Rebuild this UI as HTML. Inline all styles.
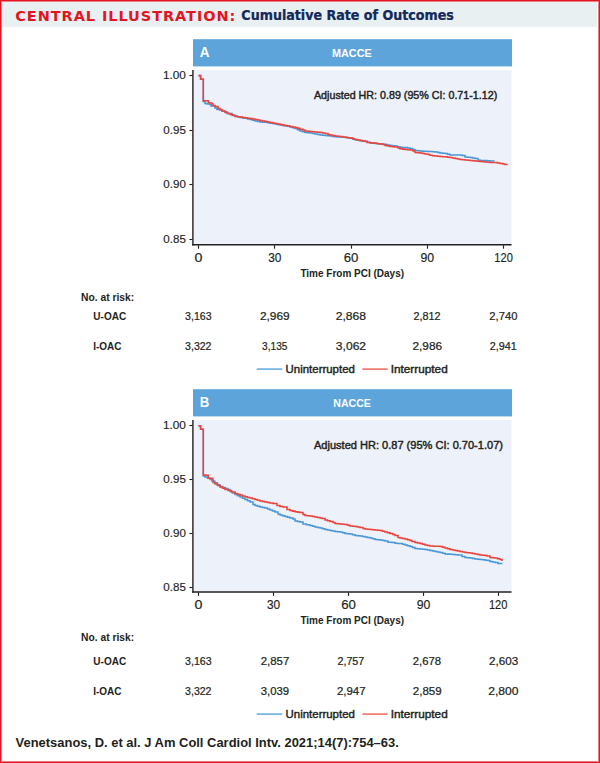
<!DOCTYPE html>
<html><head><meta charset="utf-8"><title>Central Illustration: Cumulative Rate of Outcomes</title>
<style>
html,body{margin:0;padding:0;background:#fff;}
body{width:600px;height:763px;position:relative;overflow:hidden;font-family:"Liberation Sans",Arial,sans-serif;}
.frame{position:absolute;left:0;top:0;width:600px;height:763px;box-sizing:border-box;border:1px solid #e3131f;box-shadow:inset 0 0 0 1px rgba(227,19,31,0.55);pointer-events:none;z-index:5;}
.band{position:absolute;left:2px;top:2px;width:595px;height:25px;background:#e8f0f2;}
svg{position:absolute;left:0;top:0;}
svg text{font-family:"Liberation Sans",Arial,sans-serif;fill:#231f20;}
.r{stroke:#231f20;stroke-width:0.42px;}
.t{stroke:#231f20;stroke-width:0.15px;}
.n{stroke:#231f20;stroke-width:0.22px;}
</style></head>
<body>
<div class="band"></div>
<svg width="600" height="763" viewBox="0 0 600 763">
<rect x="193" y="39.2" width="319" height="27.2" fill="#5ca4d9"/>
<text transform="translate(199.66,56.70) scale(0.924,1)" style="font-size:14.55px;font-weight:700;fill:#fff">A</text>
<text transform="translate(331.97,56.70) scale(0.970,1)" style="font-size:11.18px;font-weight:700;fill:#fff">MACCE</text>
<rect x="193" y="70" width="318.5" height="174.8" fill="#edf1fa"/>
<path d="M198.5,75.6H200.6V75.6V79.3H203.3V79.3V101.5H205.0V103.5H207.0V104.0H210.0V104.5H211.0V106.0H215.0V108.0H217.0V109.5H220.0V110.0H222.5V111.2H225.0V112.5H228.0V113.5H232.0V115.5H235.0V116.0H237.5V116.8H240.0V117.5H242.5V117.9H245.0V118.3H247.5V118.9H250.0V119.5H252.5V120.2H255.0V121.0H257.5V121.5H260.0V122.0H262.5V122.2H265.0V122.3H267.5V122.8H270.0V123.2H273.3V123.8H276.7V124.4H280.0V125.0H283.3V125.7H286.7V126.3H290.0V127.0H292.5V127.8H295.0V128.5H297.5V129.8H300.0V131.0H302.5V131.8H305.0V132.5H307.5V132.8H310.0V133.0H312.5V133.5H315.0V134.0H317.5V134.5H320.0V135.0H322.5V135.2H325.0V135.5H327.5V135.8H330.0V136.0H332.5V136.4H335.0V136.8H337.5V136.9H340.0V137.0H342.5V137.2H345.0V137.5H347.5V137.8H350.0V138.2H352.5V138.9H355.0V139.7H357.5V140.2H360.0V140.7H362.5V141.1H365.0V141.5H367.5V142.2H370.0V143.0H372.5V143.2H375.0V143.5H377.5V143.8H380.0V144.0H382.5V144.2H385.0V144.5H387.5V145.0H390.0V145.5H392.5V145.8H395.0V146.0H397.5V146.7H400.0V147.3H402.5V147.4H405.0V147.5H407.5V148.0H410.0V148.5H412.5V149.5H415.0V150.5H417.5V150.8H420.0V151.0H422.5V151.2H425.0V151.3H427.5V151.4H430.0V151.5H432.5V151.8H435.0V152.0H438.0V152.5H440.0V153.0H442.5V153.2H445.0V153.5H447.5V154.2H450.0V155.0H453.3V155.0H456.7V155.0H460.0V155.0H462.0V155.5H465.0V157.0H467.5V157.2H470.0V157.5H472.5V158.0H475.0V158.5H478.0V160.0H480.0V160.5H482.5V160.5H485.0V160.5H487.5V160.8H490.0V161.0H494.0V161.3" fill="none" stroke="#4a97d6" stroke-width="1.55"/>
<path d="M198.5,75.6H200.6V75.6V79.3H203.3V79.3V100.7H205.7V100.8H208.0V100.9H208.5V103.0H212.0V104.0H213.0V105.5H215.0V106.5H218.0V108.5H220.0V109.5H222.0V111.0H225.0V112.0H227.0V113.5H230.0V114.5H233.0V115.3H235.0V116.5H237.5V116.8H240.0V117.0H242.5V117.4H245.0V117.8H247.5V118.2H250.0V118.5H252.5V119.0H255.0V119.5H257.5V120.0H260.0V120.5H262.5V121.0H265.0V121.5H267.5V122.0H270.0V122.5H272.5V123.0H275.0V123.5H277.5V124.0H280.0V124.5H282.5V125.0H285.0V125.5H287.5V126.0H290.0V126.5H292.5V127.0H295.0V127.5H297.5V128.4H300.0V129.3H303.0V130.0H305.0V131.0H307.5V131.2H310.0V131.5H312.5V131.8H315.0V132.0H317.5V132.2H320.0V132.5H322.5V133.0H325.0V133.5H328.0V134.5H330.0V135.0H332.5V135.5H335.0V136.0H337.5V136.2H340.0V136.5H342.5V136.9H345.0V137.3H347.5V137.7H350.0V138.0H353.0V139.0H355.0V139.5H357.5V140.0H360.0V140.5H362.5V140.9H365.0V141.3H367.0V142.5H370.0V142.8H372.5V143.1H375.0V143.3H377.5V143.7H380.0V144.0H383.0V144.5H385.0V145.5H387.5V146.0H390.0V146.5H392.5V146.8H395.0V147.0H398.0V148.0H400.0V148.7H402.5V149.1H405.0V149.5H407.5V149.8H410.0V150.0H413.0V151.0H415.0V152.5H417.5V152.8H420.0V153.0H422.5V153.5H425.0V154.0H428.0V154.5H430.0V155.3H432.5V155.7H435.0V156.0H437.5V156.2H440.0V156.5H442.5V156.7H445.0V156.8H447.5V157.2H450.0V157.5H452.5V158.0H455.0V158.5H457.5V159.0H460.0V159.5H462.5V159.8H465.0V160.0H467.5V160.2H470.0V160.5H472.5V160.8H475.0V161.0H477.5V161.2H480.0V161.5H482.5V161.8H485.0V162.0H487.5V162.2H490.0V162.5H492.5V162.5H495.0V162.5H497.5V163.0H500.0V163.5H503.0V164.0H505.0V164.5H507.0V165.0" fill="none" stroke="#e8453f" stroke-width="1.55"/>
<line x1="192.9" y1="70" x2="192.9" y2="245.5" stroke="#231f20" stroke-width="1.4"/>
<line x1="192.2" y1="244.8" x2="511.5" y2="244.8" stroke="#231f20" stroke-width="1.4"/>
<line x1="189.4" y1="75.5" x2="192.5" y2="75.5" stroke="#231f20" stroke-width="1.1"/>
<text class="t" transform="translate(162.92,79.15) scale(1.089,1)" style="font-size:10.82px;font-weight:400">1.00</text>
<line x1="189.4" y1="130.5" x2="192.5" y2="130.5" stroke="#231f20" stroke-width="1.1"/>
<text class="t" transform="translate(163.34,133.65) scale(1.070,1)" style="font-size:10.82px;font-weight:400">0.95</text>
<line x1="189.4" y1="184.5" x2="192.5" y2="184.5" stroke="#231f20" stroke-width="1.1"/>
<text class="t" transform="translate(163.34,188.15) scale(1.069,1)" style="font-size:10.82px;font-weight:400">0.90</text>
<line x1="189.4" y1="239.5" x2="192.5" y2="239.5" stroke="#231f20" stroke-width="1.1"/>
<text class="t" transform="translate(163.34,242.75) scale(1.070,1)" style="font-size:10.82px;font-weight:400">0.85</text>
<line x1="198.5" y1="245.3" x2="198.5" y2="248.70000000000002" stroke="#231f20" stroke-width="1.15"/>
<text class="t" transform="translate(194.53,261.50) scale(1.197,1)" style="font-size:11.90px;font-weight:400">0</text>
<line x1="274.5" y1="245.3" x2="274.5" y2="248.70000000000002" stroke="#231f20" stroke-width="1.15"/>
<text class="t" transform="translate(268.20,261.50) scale(0.999,1)" style="font-size:11.90px;font-weight:400">30</text>
<line x1="351.5" y1="245.3" x2="351.5" y2="248.70000000000002" stroke="#231f20" stroke-width="1.15"/>
<text class="t" transform="translate(343.69,261.50) scale(1.110,1)" style="font-size:11.90px;font-weight:400">60</text>
<line x1="427.5" y1="245.3" x2="427.5" y2="248.70000000000002" stroke="#231f20" stroke-width="1.15"/>
<text class="t" transform="translate(420.52,261.50) scale(1.033,1)" style="font-size:11.90px;font-weight:400">90</text>
<line x1="503.5" y1="245.3" x2="503.5" y2="248.70000000000002" stroke="#231f20" stroke-width="1.15"/>
<text class="t" transform="translate(494.37,261.50) scale(0.930,1)" style="font-size:11.90px;font-weight:400">120</text>
<text transform="translate(300.40,276.50) scale(0.930,1)" style="font-size:10.76px;font-weight:700">Time From PCI (Days)</text>
<text class="r" transform="translate(313.97,99.40) scale(1.009,1)" style="font-size:10.62px;font-weight:400">Adjusted HR: 0.89 (95% CI: 0.71-1.12)</text>
<text transform="translate(81.11,301.00) scale(0.980,1)" style="font-size:10.48px;font-weight:700">No. at risk:</text>
<text transform="translate(93.30,319.90) scale(0.958,1)" style="font-size:10.47px;font-weight:700">U-OAC</text>
<text transform="translate(93.23,349.90) scale(0.953,1)" style="font-size:10.47px;font-weight:700">I-OAC</text>
<text class="n" transform="translate(185.10,319.90) scale(0.987,1)" style="font-size:10.75px;font-weight:400">3,163</text>
<text class="n" transform="translate(259.90,319.90) scale(1.109,1)" style="font-size:10.75px;font-weight:400">2,969</text>
<text class="n" transform="translate(335.69,319.90) scale(1.127,1)" style="font-size:10.75px;font-weight:400">2,868</text>
<text class="n" transform="translate(413.56,319.90) scale(1.006,1)" style="font-size:10.75px;font-weight:400">2,812</text>
<text class="n" transform="translate(489.34,319.90) scale(1.044,1)" style="font-size:10.75px;font-weight:400">2,740</text>
<text class="n" transform="translate(185.10,349.90) scale(0.982,1)" style="font-size:10.75px;font-weight:400">3,322</text>
<text class="n" transform="translate(262.12,349.90) scale(0.940,1)" style="font-size:10.75px;font-weight:400">3,135</text>
<text class="n" transform="translate(335.85,349.90) scale(1.124,1)" style="font-size:10.75px;font-weight:400">3,062</text>
<text class="n" transform="translate(412.41,349.90) scale(1.104,1)" style="font-size:10.75px;font-weight:400">2,986</text>
<text class="n" transform="translate(489.86,349.90) scale(1.005,1)" style="font-size:10.75px;font-weight:400">2,941</text>
<line x1="256.7" y1="369.1" x2="282.3" y2="369.1" stroke="#5fa8de" stroke-width="1.5"/>
<text class="r" transform="translate(285.61,372.60) scale(1.012,1)" style="font-size:11.31px;font-weight:400">Uninterrupted</text>
<line x1="362.3" y1="369.1" x2="387.6" y2="369.1" stroke="#ec6a5c" stroke-width="1.5"/>
<text class="r" transform="translate(390.71,372.60) scale(1.043,1)" style="font-size:11.31px;font-weight:400">Interrupted</text>
<rect x="193" y="389.2" width="319" height="27.2" fill="#5ca4d9"/>
<text transform="translate(199.81,406.90) scale(0.911,1)" style="font-size:14.40px;font-weight:700;fill:#fff">B</text>
<text transform="translate(333.29,407.20) scale(0.932,1)" style="font-size:11.33px;font-weight:700;fill:#fff">NACCE</text>
<rect x="193" y="420" width="318.5" height="172" fill="#edf1fa"/>
<path d="M198.4,425.7H200.6V425.7V429.3H203.3V429.3V476.0H205.0V477.0H207.5V478.2H210.0V479.5H212.0V481.0H214.7V482.8H217.3V484.7H220.0V486.5H222.7V487.5H225.3V488.5H228.0V489.5H230.0V491.5H232.5V493.0H235.0V494.5H237.5V495.8H240.0V497.0H242.5V498.2H245.0V499.5H247.5V500.8H250.0V502.0H253.0V504.5H255.0V505.5H257.5V506.2H260.0V507.0H262.5V507.5H265.0V508.0H267.5V509.0H270.0V510.0H272.5V511.0H275.0V512.0H278.0V514.0H280.0V515.0H282.5V515.8H285.0V516.5H287.5V517.2H290.0V518.0H293.0V519.0H295.0V521.0H297.5V521.5H300.0V522.0H303.0V524.0H306.5V524.8H310.0V525.5H312.5V526.2H315.0V527.0H317.5V527.5H320.0V528.0H322.5V528.8H325.0V529.5H327.5V530.0H330.0V530.5H332.5V531.0H335.0V531.5H337.5V531.8H340.0V532.0H342.5V532.8H345.0V533.5H347.5V533.8H350.0V534.0H352.5V534.8H355.0V535.5H357.5V535.8H360.0V536.0H362.5V536.5H365.0V537.0H367.5V537.5H370.0V538.0H372.5V538.8H375.0V539.5H377.5V539.8H380.0V540.0H382.5V540.5H385.0V541.0H388.0V542.3H392.0V542.5H395.0V543.3H397.5V543.4H400.0V543.5H402.5V544.2H405.0V545.0H407.5V545.8H410.0V546.5H412.5V547.5H415.0V548.5H417.5V548.8H420.0V549.0H422.5V549.2H425.0V549.5H427.5V550.0H430.0V550.5H432.5V551.0H435.0V551.5H437.5V552.0H440.0V552.5H442.5V553.2H445.0V554.0H447.5V554.1H450.0V554.3H452.7V554.5H455.3V554.8H458.0V555.0H462.0V556.5H465.0V557.5H467.5V557.8H470.0V558.0H472.5V558.5H475.0V559.0H477.5V559.2H480.0V559.5H482.7V559.8H485.3V560.2H488.0V560.5H490.0V561.5H492.5V562.0H495.0V562.5H498.0V563.5H501.5V564.3" fill="none" stroke="#4a97d6" stroke-width="1.55"/>
<path d="M198.4,425.7H200.6V425.7V429.3H203.3V429.3V475.0H205.8V475.2H208.3V475.5V478.3H212.5V479.5H213.0V482.5H215.0V484.0H217.5V485.5H220.0V487.0H222.5V488.2H225.0V489.5H228.0V490.5H231.5V492.0H235.0V493.5H237.5V494.2H240.0V495.0H242.5V495.9H245.0V496.7H247.5V497.4H250.0V498.0H252.5V498.8H255.0V499.5H257.5V500.2H260.0V501.0H262.5V501.5H265.0V502.0H267.5V502.5H270.0V503.0H273.0V503.5H277.0V505.5H280.0V506.5H283.0V507.0H287.0V509.5H290.0V510.5H292.5V511.1H295.0V511.7H297.5V512.1H300.0V512.5H303.0V514.5H305.0V515.5H307.5V515.8H310.0V516.0H312.5V516.5H315.0V517.0H317.5V517.5H320.0V518.0H322.0V518.5H325.0V520.0H327.5V520.8H330.0V521.5H333.0V522.5H335.0V523.5H337.5V523.8H340.0V524.0H342.5V524.2H345.0V524.5H347.5V525.2H350.0V526.0H352.5V526.2H355.0V526.5H357.5V527.0H360.0V527.5H363.0V528.5H365.0V529.0H367.5V529.2H370.0V529.5H372.5V529.8H375.0V530.0H377.5V530.2H380.0V530.5H382.5V531.2H385.0V532.0H387.5V532.8H390.0V533.5H393.0V534.5H395.0V535.4H398.0V537.5H400.0V538.0H402.5V538.5H405.0V539.0H407.5V539.8H410.0V540.5H412.0V541.5H415.0V542.5H417.5V543.0H420.0V543.5H422.5V544.2H425.0V545.0H427.5V545.5H430.0V546.0H433.3V546.2H436.7V546.3H440.0V546.5H442.5V547.2H445.0V548.0H447.5V548.8H450.0V549.5H452.5V550.0H455.0V550.5H457.5V551.0H460.0V551.5H462.5V552.0H465.0V552.5H467.5V552.8H470.0V553.0H472.5V553.5H475.0V554.0H477.5V554.5H480.0V555.0H482.5V555.2H485.0V555.5H487.0V556.0H490.0V557.5H492.5V557.8H495.0V558.0H497.5V558.8H500.0V559.5H502.0V561.0" fill="none" stroke="#e8453f" stroke-width="1.55"/>
<line x1="192.9" y1="420" x2="192.9" y2="592.7" stroke="#231f20" stroke-width="1.4"/>
<line x1="192.2" y1="592" x2="511.5" y2="592" stroke="#231f20" stroke-width="1.4"/>
<line x1="189.4" y1="425.5" x2="192.5" y2="425.5" stroke="#231f20" stroke-width="1.1"/>
<text class="t" transform="translate(162.92,429.15) scale(1.089,1)" style="font-size:10.82px;font-weight:400">1.00</text>
<line x1="189.4" y1="479.5" x2="192.5" y2="479.5" stroke="#231f20" stroke-width="1.1"/>
<text class="t" transform="translate(163.34,482.95) scale(1.070,1)" style="font-size:10.82px;font-weight:400">0.95</text>
<line x1="189.4" y1="533.5" x2="192.5" y2="533.5" stroke="#231f20" stroke-width="1.1"/>
<text class="t" transform="translate(163.34,536.75) scale(1.069,1)" style="font-size:10.82px;font-weight:400">0.90</text>
<line x1="189.4" y1="587.5" x2="192.5" y2="587.5" stroke="#231f20" stroke-width="1.1"/>
<text class="t" transform="translate(163.34,590.65) scale(1.070,1)" style="font-size:10.82px;font-weight:400">0.85</text>
<line x1="198.5" y1="592.5" x2="198.5" y2="595.9" stroke="#231f20" stroke-width="1.15"/>
<text class="t" transform="translate(194.43,608.80) scale(1.197,1)" style="font-size:11.90px;font-weight:400">0</text>
<line x1="273.5" y1="592.5" x2="273.5" y2="595.9" stroke="#231f20" stroke-width="1.15"/>
<text class="t" transform="translate(267.00,608.80) scale(0.999,1)" style="font-size:11.90px;font-weight:400">30</text>
<line x1="348.5" y1="592.5" x2="348.5" y2="595.9" stroke="#231f20" stroke-width="1.15"/>
<text class="t" transform="translate(341.19,608.80) scale(1.110,1)" style="font-size:11.90px;font-weight:400">60</text>
<line x1="423.5" y1="592.5" x2="423.5" y2="595.9" stroke="#231f20" stroke-width="1.15"/>
<text class="t" transform="translate(416.72,608.80) scale(1.033,1)" style="font-size:11.90px;font-weight:400">90</text>
<line x1="498.5" y1="592.5" x2="498.5" y2="595.9" stroke="#231f20" stroke-width="1.15"/>
<text class="t" transform="translate(488.97,608.80) scale(0.930,1)" style="font-size:11.90px;font-weight:400">120</text>
<text transform="translate(300.40,623.50) scale(0.930,1)" style="font-size:10.76px;font-weight:700">Time From PCI (Days)</text>
<text class="r" transform="translate(313.97,449.40) scale(1.040,1)" style="font-size:10.62px;font-weight:400">Adjusted HR: 0.87 (95% CI: 0.70-1.07)</text>
<text transform="translate(81.11,640.70) scale(0.980,1)" style="font-size:10.48px;font-weight:700">No. at risk:</text>
<text transform="translate(93.30,665.20) scale(0.958,1)" style="font-size:10.47px;font-weight:700">U-OAC</text>
<text transform="translate(93.23,695.20) scale(0.953,1)" style="font-size:10.47px;font-weight:700">I-OAC</text>
<text class="n" transform="translate(185.10,665.20) scale(0.987,1)" style="font-size:10.75px;font-weight:400">3,163</text>
<text class="n" transform="translate(260.63,665.20) scale(1.065,1)" style="font-size:10.75px;font-weight:400">2,857</text>
<text class="n" transform="translate(337.46,665.20) scale(0.999,1)" style="font-size:10.75px;font-weight:400">2,757</text>
<text class="n" transform="translate(412.83,665.20) scale(1.053,1)" style="font-size:10.75px;font-weight:400">2,678</text>
<text class="n" transform="translate(488.91,665.20) scale(1.088,1)" style="font-size:10.75px;font-weight:400">2,603</text>
<text class="n" transform="translate(185.10,695.20) scale(0.982,1)" style="font-size:10.75px;font-weight:400">3,322</text>
<text class="n" transform="translate(260.77,695.20) scale(1.057,1)" style="font-size:10.75px;font-weight:400">3,039</text>
<text class="n" transform="translate(336.93,695.20) scale(1.065,1)" style="font-size:10.75px;font-weight:400">2,947</text>
<text class="n" transform="translate(412.82,695.20) scale(1.074,1)" style="font-size:10.75px;font-weight:400">2,859</text>
<text class="n" transform="translate(488.19,695.20) scale(1.128,1)" style="font-size:10.75px;font-weight:400">2,800</text>
<line x1="256.7" y1="714.1" x2="282.3" y2="714.1" stroke="#5fa8de" stroke-width="1.5"/>
<text class="r" transform="translate(285.61,717.60) scale(1.012,1)" style="font-size:11.31px;font-weight:400">Uninterrupted</text>
<line x1="362.3" y1="714.1" x2="387.6" y2="714.1" stroke="#ec6a5c" stroke-width="1.5"/>
<text class="r" transform="translate(390.71,717.60) scale(1.043,1)" style="font-size:11.31px;font-weight:400">Interrupted</text>
<text transform="translate(15.60,746.60) scale(1.012,1)" style="font-size:12.80px;font-weight:700">Venetsanos, D. et al. J Am Coll Cardiol Intv. 2021;14(7):754–63.</text>
<text transform="translate(15.27,20.60) scale(1.045,1)" style="font-size:13.87px;font-weight:700;letter-spacing:0.9px;font-family:'DejaVu Sans','Liberation Sans',sans-serif;fill:#e3141f">CENTRAL ILLUSTRATION:</text>
<text transform="translate(241.37,20.40) scale(1.025,1)" style="font-size:13.74px;font-weight:700;font-family:'DejaVu Sans Condensed','DejaVu Sans','Liberation Sans',sans-serif;font-stretch:condensed;fill:#12295a" stroke="#12295a" stroke-width="0.25">Cumulative Rate of Outcomes</text>
</svg>
<div class="frame"></div>
</body></html>
